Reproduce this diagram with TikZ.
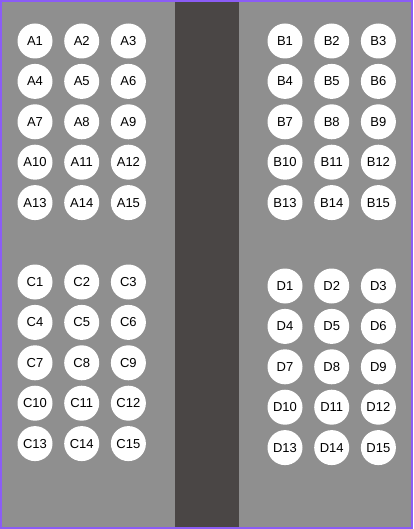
\documentclass[tikz,border=0pt]{standalone}
\usepackage{fontspec}
\setmainfont{Liberation Sans}
\usepackage{tikz}

\definecolor{lotgray}{RGB}{143,143,143}
\definecolor{roadgray}{RGB}{74,70,69}
\definecolor{framepurple}{RGB}{139,92,246}

\begin{document}
\begin{tikzpicture}[x=1pt,y=-1pt,
  every node/.append style={font=\fontsize{13}{13}\selectfont, text=black},
  seat/.style={circle,fill=white,minimum size=35pt,inner sep=0pt}]
\useasboundingbox (0,0) rectangle (413,529);
\fill[lotgray] (0,0) rectangle (413,529);
\fill[roadgray] (175,0) rectangle (239,529);
\draw[framepurple,line width=2pt] (1,1) rectangle (412,528);
\foreach \g/\ox/\oy in {A/35/41, B/285/41, C/35/282, D/285/286} {
  \foreach \i in {1,...,15} {
    \pgfmathtruncatemacro{\col}{mod(\i-1,3)}
    \pgfmathtruncatemacro{\row}{(\i-1)/3}
    \node[seat] (\g\i) at (\ox+46.7*\col, \oy+40.4*\row) {\g\i};
  }
}
\end{tikzpicture}
\end{document}
